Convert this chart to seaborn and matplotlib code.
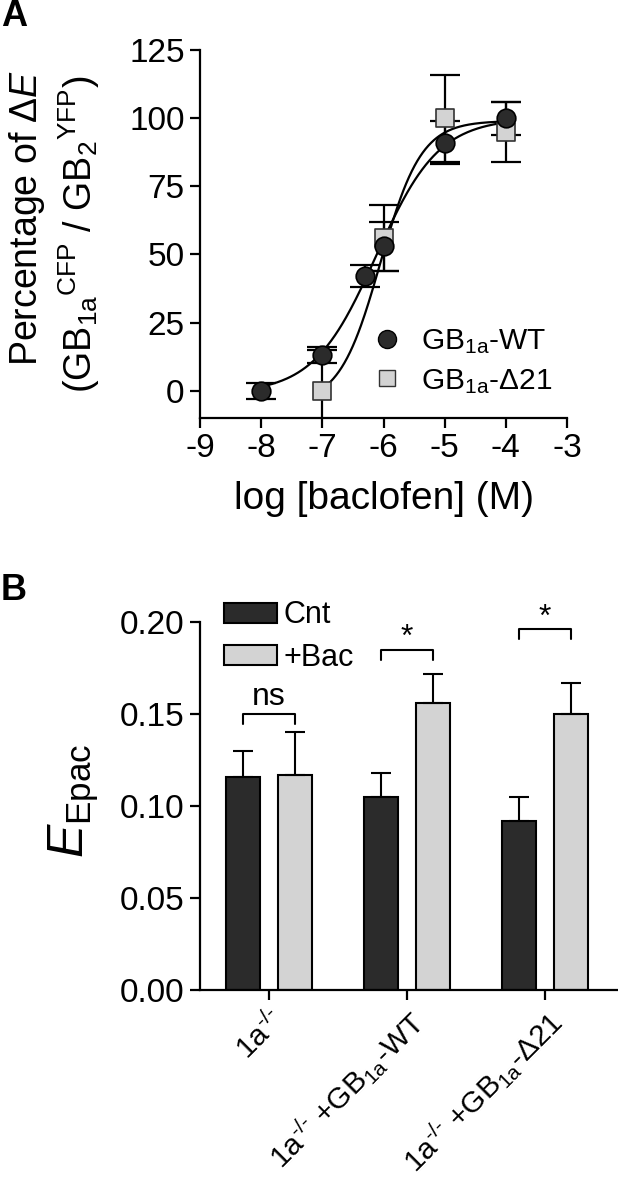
import numpy as np
import pandas as pd
import matplotlib
matplotlib.use("Agg")
import matplotlib.pyplot as plt
import seaborn as sns
from matplotlib.lines import Line2D
from matplotlib.patches import Patch

# ---- Panel A data: dose response (log M) ----
wt_logc = [-8, -7, -6.3, -6, -5, -4]
wt_mean = [0, 13, 42, 53, 91, 100]
wt_sem = [3, 3, 4, 9, 8, 6]

d21_logc = [-7, -6, -5, -4]
d21_mean = [0, 56, 100, 95]
d21_sem = [15, 12, 16, 11]

# fitted sigmoid parameters (bottom, top, logEC50, hill)
wt_fit = (-1, 100, -6.12, 0.85)
d21_fit = (-5, 99, -6.05, 1.3)
wt_fit_range = (-8, -4)
d21_fit_range = (-7, -4)

# ---- Panel B data: E_Epac bars ----
groups = ["1a$^{\\text{-/-}}$",
          "1a$^{\\text{-/-}}$ +GB$_{1a}$-WT",
          "1a$^{\\text{-/-}}$ +GB$_{1a}$-Δ21"]
cnt_mean = [0.116, 0.105, 0.092]
cnt_sem = [0.014, 0.013, 0.013]
bac_mean = [0.117, 0.156, 0.150]
bac_sem = [0.023, 0.016, 0.017]
sig_labels = ["ns", "*", "*"]
sig_y = [0.150, 0.185, 0.196]

sns.set_style("ticks")
plt.rcParams["font.family"] = ["Liberation Sans", "DejaVu Sans"]
plt.rcParams["mathtext.fontset"] = "custom"
plt.rcParams["mathtext.rm"] = "Liberation Sans"
plt.rcParams["mathtext.it"] = "Liberation Sans:italic"
plt.rcParams["mathtext.bf"] = "Liberation Sans:bold"
plt.rcParams["mathtext.default"] = "regular"
plt.rcParams["axes.unicode_minus"] = False
plt.rcParams["axes.linewidth"] = 1.6
plt.rcParams["axes.edgecolor"] = "black"
plt.rcParams["text.color"] = "black"
plt.rcParams["axes.labelcolor"] = "black"
plt.rcParams["xtick.color"] = "black"
plt.rcParams["ytick.color"] = "black"
plt.rcParams["xtick.major.width"] = 1.6
plt.rcParams["ytick.major.width"] = 1.6
plt.rcParams["xtick.major.size"] = 7
plt.rcParams["ytick.major.size"] = 7

dark = "#2b2b2b"
light = "#d3d3d3"
fs = 24

fig = plt.figure(figsize=(6.18, 12), dpi=100)

# ================= Panel A =================
axA = fig.add_axes([200 / 618, 1 - 418 / 1200, 367 / 618, 368 / 1200])


def hill(x, p):
    bottom, top, ec, h = p
    return bottom + (top - bottom) / (1 + 10 ** (h * (ec - x)))


xs = np.linspace(*wt_fit_range, 200)
sns.lineplot(x=xs, y=hill(xs, wt_fit), color="black", lw=1.6, ax=axA, zorder=2)
xs2 = np.linspace(*d21_fit_range, 200)
sns.lineplot(x=xs2, y=hill(xs2, d21_fit), color="black", lw=1.6, ax=axA, zorder=2)

axA.errorbar(wt_logc, wt_mean, yerr=wt_sem, fmt="none", ecolor="black",
             elinewidth=1.6, capsize=11, capthick=1.6, zorder=3)
axA.errorbar(d21_logc, d21_mean, yerr=d21_sem, fmt="none", ecolor="black",
             elinewidth=1.6, capsize=11, capthick=1.6, zorder=3)

sns.scatterplot(x=wt_logc, y=wt_mean, marker="o", s=180, color=dark,
                edgecolor="black", linewidth=1.2, ax=axA, zorder=5)
sns.scatterplot(x=d21_logc, y=d21_mean, marker="s", s=150, color=light,
                edgecolor="#333333", linewidth=1.2, ax=axA, zorder=4)

axA.set_xlim(-9, -3)
axA.set_ylim(-10, 125)
axA.set_xticks(range(-9, -2))
axA.set_yticks([0, 25, 50, 75, 100, 125])
axA.tick_params(labelsize=fs, pad=4)
sns.despine(ax=axA)
axA.set_xlabel("log [baclofen] (M)", fontsize=28, labelpad=12)
axA.set_ylabel("")

handlesA = [
    Line2D([], [], marker="o", ls="none", markersize=13, markerfacecolor=dark,
           markeredgecolor="black", label="GB$_{1a}$-WT"),
    Line2D([], [], marker="s", ls="none", markersize=12, markerfacecolor=light,
           markeredgecolor="#333333", label="GB$_{1a}$-Δ21"),
]
axA.legend(handles=handlesA, frameon=False, fontsize=21.5, loc="lower right",
           bbox_to_anchor=(1.0, 0.02), handletextpad=0.55, labelspacing=0.35,
           borderpad=0, handlelength=1.2)

fig.text(27 / 618, 1 - 218 / 1200, "Percentage of $\\mathit{ΔE}$", rotation=90,
         ha="center", va="center", fontsize=27)
fig.text(79 / 618, 1 - 234 / 1200,
         "(GB$_{1a}{}^{CFP}$ / GB$_{2}{}^{YFP}$)", rotation=90,
         ha="center", va="center", fontsize=27)
fig.text(1 / 618, 1 - 17 / 1200, "A", fontsize=26, fontweight="bold",
         ha="left", va="center")

# ================= Panel B =================
axB = fig.add_axes([200 / 618, 1 - 990 / 1200, 417 / 618, 368 / 1200])

dfB = pd.DataFrame({
    "group": groups * 2,
    "treatment": ["Cnt"] * 3 + ["+Bac"] * 3,
    "value": cnt_mean + bac_mean,
})
sns.barplot(data=dfB, x="group", y="value", hue="treatment",
            palette={"Cnt": dark, "+Bac": light}, width=0.752, gap=0.35,
            edgecolor="black", linewidth=1.5, errorbar=None, legend=False,
            ax=axB)

for cont, sems in zip(axB.containers, [cnt_sem, bac_sem]):
    bx = [b.get_x() + b.get_width() / 2 for b in cont]
    by = [b.get_height() for b in cont]
    axB.errorbar(bx, by, yerr=[[0] * len(sems), sems], fmt="none",
                 ecolor="black", elinewidth=1.5, capsize=7, capthick=1.5,
                 zorder=1)

# significance brackets
tick = 0.0055
for i, (lab, y) in enumerate(zip(sig_labels, sig_y)):
    b1 = axB.containers[0][i]
    b2 = axB.containers[1][i]
    x1 = b1.get_x() + b1.get_width() / 2
    x2 = b2.get_x() + b2.get_width() / 2
    axB.plot([x1, x1, x2, x2], [y - tick, y, y, y - tick], color="black",
             lw=1.5, clip_on=False)
    off = 0.001 if lab == "ns" else -0.002
    axB.text((x1 + x2) / 2, y + off, lab, ha="center", va="bottom",
             fontsize=23, clip_on=False)

axB.set_xlim(-0.5, 2.52)
axB.set_ylim(0, 0.20)
axB.set_yticks([0, 0.05, 0.10, 0.15, 0.20])
axB.set_yticklabels(["0.00", "0.05", "0.10", "0.15", "0.20"])
axB.tick_params(labelsize=fs, pad=4)
axB.set_xticks([0, 1, 2])
axB.set_xticklabels(groups, rotation=45, ha="right", rotation_mode="anchor",
                    fontsize=21.5)
axB.set_xlabel("")
axB.set_ylabel("")
sns.despine(ax=axB)

handlesB = [
    Patch(facecolor=dark, edgecolor="black", linewidth=1.5, label="Cnt"),
    Patch(facecolor=light, edgecolor="black", linewidth=1.5, label="+Bac"),
]
axB.legend(handles=handlesB, frameon=False, fontsize=22, loc="upper left",
           bbox_to_anchor=(0.02, 1.1), handlelength=1.75, handleheight=0.65,
           handletextpad=0.2, labelspacing=0.4, borderpad=0)

fig.text(74 / 618, 1 - 801 / 1200, "$\\mathit{E}_{\\mathrm{Epac}}$",
         rotation=90, ha="center", va="center", fontsize=36)
fig.text(1 / 618, 1 - 590 / 1200, "B", fontsize=26, fontweight="bold",
         ha="left", va="center")

fig.savefig("out.png", dpi=100)
